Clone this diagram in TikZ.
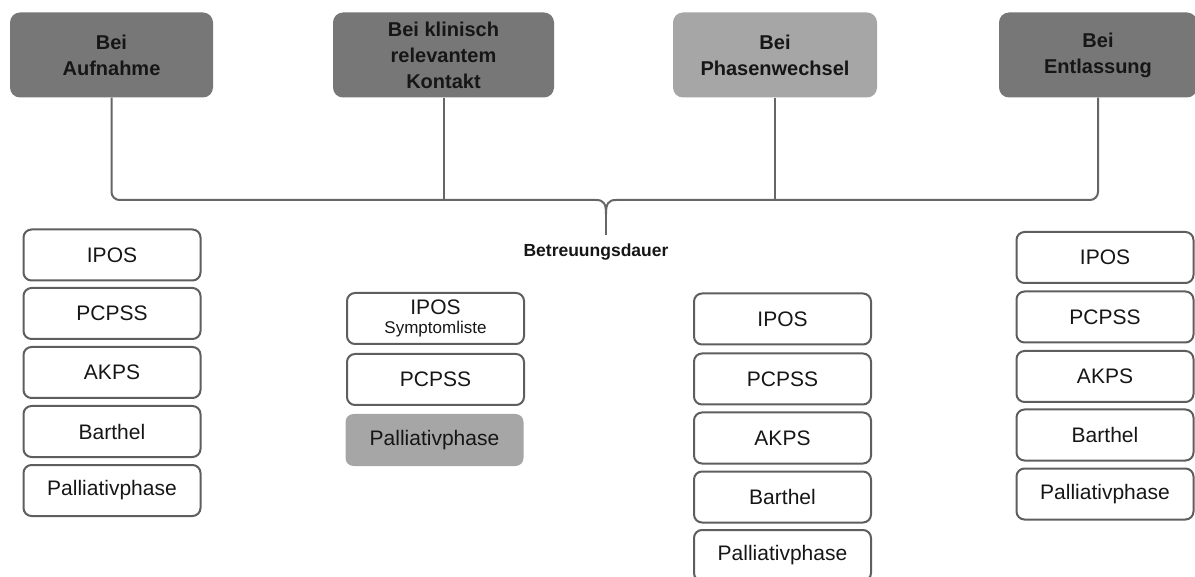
\documentclass[tikz,border=0pt]{standalone}
\usepackage{fontspec}
\setmainfont{Liberation Sans}
\usepackage{xcolor}
\definecolor{headdark}{HTML}{777777}
\definecolor{headlight}{HTML}{A6A6A6}
\definecolor{boxline}{HTML}{5E5E5E}
\definecolor{barline}{HTML}{666666}
\definecolor{inktext}{HTML}{161616}

\begin{document}
\begin{tikzpicture}[x=1pt,y=-1pt,
	head/.style={rounded corners=10pt, align=center, text=inktext,
		minimum height=85pt, font=\bfseries\fontsize{20}{26}\selectfont},
	item/.style={draw=boxline, line width=2pt, rounded corners=8pt, text=inktext,
		minimum width=177pt, minimum height=51pt, align=center,
		font=\fontsize{21}{25}\selectfont},
	conn/.style={draw=barline, line width=2pt}]
	
	\useasboundingbox (0,0) rectangle (1195,577);
	\clip (0,0) rectangle (1195,577);
	
	% time points
	\node [head, fill=headdark, minimum width=203pt] (auf) at (111.5,55) {Bei\\Aufnahme};
	\node [head, fill=headdark, minimum width=221pt] (kon) at (443.5,55) {Bei klinisch\\relevantem\\Kontakt};
	\node [head, fill=headlight, minimum width=204pt] (pha) at (775,55) {Bei\\Phasenwechsel};
	\node [head, fill=headdark, minimum width=198pt] (ent) at (1098,55) {Bei\\Entlassung};
	
	% brace
	\coordinate (lk) at (596,200);
	\coordinate (rk) at (616,200);
	\coordinate (mid) at (606,214);
	\coordinate (tip) at (606,235);
	\draw [conn, rounded corners=8pt] (auf.south) |- (lk);
	\draw [conn, rounded corners=8pt] (ent.south) |- (rk);
	\draw [conn] (lk) .. controls (604,200) and (606,204) .. (mid);
	\draw [conn] (rk) .. controls (608,200) and (606,204) .. (mid);
	\draw [conn] (mid) -- (tip);
	\draw [conn] (kon.south) -- (kon.south |- lk);
	\draw [conn] (pha.south) -- (pha.south |- lk);
	\node [font=\bfseries\fontsize{17.5}{20}\selectfont, text=inktext] (dauer) at (596,252) {Betreuungsdauer};
	
	% Aufnahme
	\node [item] (a1) at (112,255) {IPOS};
	\node [item] (a2) at (112,313.5) {PCPSS};
	\node [item] (a3) at (112,372.5) {AKPS};
	\node [item] (a4) at (112,431.5) {Barthel};
	\node [item] (a5) at (112,490.5) {Palliativphase};
	
	% klinisch relevanter Kontakt
	\node [item] (k1) at (435.5,318.5) {IPOS\\[-6pt]{\fontsize{17}{20}\selectfont Symptomliste}};
	\node [item] (k2) at (435.5,379.5) {PCPSS};
	\node [item, draw=none, fill=headlight, minimum width=178pt, minimum height=52pt] (k3) at (434.5,440) {Palliativphase};
	
	% Phasenwechsel
	\node [item] (p1) at (782.5,319) {IPOS};
	\node [item] (p2) at (782.5,379) {PCPSS};
	\node [item] (p3) at (782.5,438) {AKPS};
	\node [item] (p4) at (782.5,497) {Barthel};
	\node [item] (p5) at (782.5,555.5) {Palliativphase};
	
	% Entlassung
	\node [item] (e1) at (1105,257.5) {IPOS};
	\node [item] (e2) at (1105,317) {PCPSS};
	\node [item] (e3) at (1105,376.5) {AKPS};
	\node [item] (e4) at (1105,435) {Barthel};
	\node [item] (e5) at (1105,494) {Palliativphase};
\end{tikzpicture}
\end{document}
